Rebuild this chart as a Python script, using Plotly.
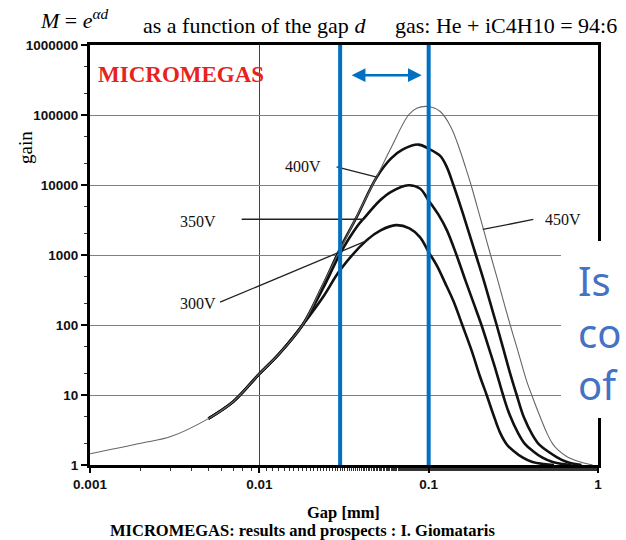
import numpy as np
import plotly.graph_objects as go

# Gas gain versus amplification gap (mm) for four mesh voltages
gap_300 = [0.005, 0.007, 0.01, 0.013, 0.018, 0.024, 0.03, 0.0431, 0.052, 0.064, 0.077, 0.0888, 0.1,
           0.112, 0.125, 0.14, 0.158, 0.18, 0.2, 0.22, 0.24, 0.264, 0.29, 0.316, 0.36, 0.41, 0.48, 0.55]
gain_300 = [4.6, 8, 20, 38, 100, 260, 610, 1630, 2250, 2670, 2400, 1800, 1100,
            700, 400, 220, 100, 42, 19, 10, 5.4, 2.9, 1.95, 1.6, 1.27, 1.1, 1.03, 1.0]

gap_350 = [0.005, 0.007, 0.01, 0.013, 0.018, 0.024, 0.03, 0.0376, 0.041, 0.0517, 0.06, 0.0759, 0.0888, 0.1,
           0.114, 0.128, 0.146, 0.165, 0.185, 0.205, 0.23, 0.25, 0.275, 0.3, 0.338, 0.37, 0.41, 0.47, 0.54, 0.62, 0.7]
gain_350 = [4.6, 8, 20, 38, 100, 350, 1050, 2520, 3240, 6050, 8000, 9930, 8900, 6000,
            3800, 2270, 1000, 430, 200, 100, 42, 22, 10, 5.3, 2.83, 2.0, 1.6, 1.27, 1.1, 1.03, 1.0]

gap_400 = [0.005, 0.007, 0.01, 0.013, 0.018, 0.024, 0.03, 0.0376, 0.0494, 0.06, 0.07, 0.087, 0.1, 0.117,
           0.128, 0.14, 0.155, 0.171, 0.19, 0.21, 0.23, 0.252, 0.275, 0.3, 0.331, 0.365, 0.41, 0.45, 0.5,
           0.57, 0.65, 0.72, 0.8]
gain_400 = [4.6, 8, 20, 38, 100, 390, 1240, 3500, 13000, 24000, 32000, 37800, 33000, 26000,
            18000, 10000, 4800, 2270, 1000, 460, 215, 100, 47, 22, 10, 4.8, 2.7, 1.95, 1.6,
            1.3, 1.11, 1.04, 1.0]

gap_450 = [0.001, 0.002, 0.003, 0.005, 0.007, 0.01, 0.013, 0.018, 0.024, 0.03, 0.04, 0.05, 0.06, 0.076,
           0.085, 0.1, 0.117, 0.135, 0.153, 0.165, 0.178, 0.193, 0.21, 0.232, 0.255, 0.278, 0.303, 0.33,
           0.36, 0.38, 0.406, 0.44, 0.5, 0.54, 0.58, 0.66, 0.78, 0.86, 0.93]
gain_450 = [1.45, 2.05, 2.55, 4.6, 8, 20, 38, 100, 400, 1200, 4800, 14000, 34000, 100000,
            125000, 132000, 112000, 68000, 31400, 18000, 10000, 5000, 2400, 1000, 450, 210, 100, 50,
            24, 15.5, 10, 6.0, 2.83, 2.0, 1.64, 1.3, 1.11, 1.04, 1.0]

# Curve labels and their leader lines
voltage_labels = ["300V", "350V", "400V", "450V"]
label_gap = [0.00432, 0.00432, 0.0180, 0.622]
label_gain = [205, 3050, 18100, 3250]
leader_gap_from = [0.00586, 0.00787, 0.0286, 0.415]
leader_gain_from = [212, 3240, 18100, 3220]
leader_gap_to = [0.0439, 0.041, 0.0494, 0.2087]
leader_gain_to = [1630, 3240, 13000, 2315]

# Highlighted gap window
window_edges = [0.03, 0.1]
window_arrow_gap = [0.0344, 0.091]
window_arrow_gain = 3.7e5

x_ticks = [0.001, 0.01, 0.1, 1]
x_tick_text = ["0.001", "0.01", "0.1", "1"]
y_ticks = [1, 10, 100, 1000, 10000, 100000, 1000000]
y_tick_text = ["1", "10", "100", "1000", "10000", "100000", "1000000"]

W, H = 626, 540
L, R, T, B = 90, 598, 45, 465


def paper(xp, yp):
    return (xp - L) / (R - L), (B - yp) / (B - T)


fig = go.Figure()

thick = dict(color="#111111", width=2.6)
for gx, gy in [(gap_300, gain_300), (gap_350, gain_350), (gap_400, gain_400)]:
    fig.add_trace(go.Scatter(x=gx, y=gy, mode="lines", line=dict(shape="spline", smoothing=1.0, **thick),
                             hoverinfo="skip", showlegend=False))
fig.add_trace(go.Scatter(x=gap_450, y=gain_450, mode="lines",
                         line=dict(shape="spline", smoothing=1.0, color="#666666", width=1.1),
                         hoverinfo="skip", showlegend=False))

# leader lines from the labels to the curves
for i in range(len(voltage_labels)):
    fig.add_trace(go.Scatter(x=[leader_gap_from[i], leader_gap_to[i]],
                             y=[leader_gain_from[i], leader_gain_to[i]],
                             mode="lines", line=dict(color="#222222", width=1.3),
                             hoverinfo="skip", showlegend=False))

# vertical window edges
for edge in window_edges:
    fig.add_trace(go.Scatter(x=[edge, edge], y=[y_ticks[0], y_ticks[-1]], mode="lines",
                             line=dict(color="#0070C0", width=4), hoverinfo="skip", showlegend=False))

annotations = []
for i, lab in enumerate(voltage_labels):
    annotations.append(dict(x=np.log10(label_gap[i]), y=np.log10(label_gain[i]), xref="x", yref="y",
                            text=lab, showarrow=False,
                            font=dict(family="Liberation Serif", size=16, color="#111111")))

# double-headed arrow across the window
annotations.append(dict(x=np.log10(window_arrow_gap[1]), y=np.log10(window_arrow_gain),
                        ax=np.log10(window_arrow_gap[0]), ay=np.log10(window_arrow_gain),
                        xref="x", yref="y", axref="x", ayref="y", text="", showarrow=True,
                        arrowhead=2, startarrowhead=2, arrowside="end+start",
                        arrowsize=1.1, startarrowsize=1.1, arrowwidth=2.5, arrowcolor="#0070C0"))


def text_at(xp, yp, txt, size, family="Liberation Serif", color="#000000", xanchor="left", **kw):
    px_, py_ = paper(xp, yp)
    d = dict(x=px_, y=py_, xref="paper", yref="paper", text=txt, showarrow=False,
             xanchor=xanchor, yanchor="middle",
             font=dict(family=family, size=size, color=color))
    d.update(kw)
    annotations.append(d)


text_at(96, 75, "<b>MICROMEGAS</b>", 23, color="#E8231E")
text_at(38, 19, "<i>M</i> = <i>e</i><sup><i>αd</i></sup>", 22)
text_at(141, 26, "as a function of the gap <i>d</i>", 22)
text_at(393, 26, "gas: He + iC4H10 = 94:6", 22)
text_at(25, 148, "gain", 19, xanchor="center", textangle=-90)
text_at(343, 512, "<b>Gap [mm]</b>", 16.5, xanchor="center")
text_at(302, 530, "<b>MICROMEGAS: results and prospects : I. Giomataris</b>", 16.5, xanchor="center")

# slide text box overlapping the right edge
x0, y0 = paper(561, 418)
x1, y1 = paper(640, 241)
shapes = [dict(type="rect", xref="paper", yref="paper", x0=x0, x1=x1, y0=y0, y1=y1,
               fillcolor="white", line=dict(width=0), layer="above")]
text_at(576, 332, "Is<br>co<br>of", 40, family="Noto Sans", color="#4472C4", align="left")

tickfont = dict(family="Liberation Sans", size=13.5, color="#111111", weight="bold")

fig.update_layout(
    width=W, height=H,
    margin=dict(l=L, r=W - R, t=T, b=H - B),
    paper_bgcolor="white", plot_bgcolor="white",
    annotations=annotations, shapes=shapes,
    xaxis=dict(type="log", range=[-3, 0], tickvals=x_ticks, ticktext=x_tick_text,
               showgrid=True, gridcolor="#444444", gridwidth=1,
               showline=True, linecolor="#000000", linewidth=2.5, mirror=True,
               ticks="outside", ticklen=5, tickwidth=1.5, tickcolor="#000000",
               minor=dict(ticks="outside", ticklen=3, tickwidth=1, tickcolor="#333333", showgrid=False),
               tickfont=tickfont, zeroline=False),
    yaxis=dict(type="log", range=[0, 6], tickvals=y_ticks, ticktext=y_tick_text,
               showgrid=True, gridcolor="#808080", gridwidth=1.3,
               showline=True, linecolor="#000000", linewidth=3, mirror=True,
               ticks="outside", ticklen=6, tickwidth=1.5, tickcolor="#000000",
               minor=dict(ticks="outside", ticklen=3, tickwidth=1, tickcolor="#333333", showgrid=False),
               tickfont=tickfont, zeroline=False),
)

fig.write_html("out.html")
